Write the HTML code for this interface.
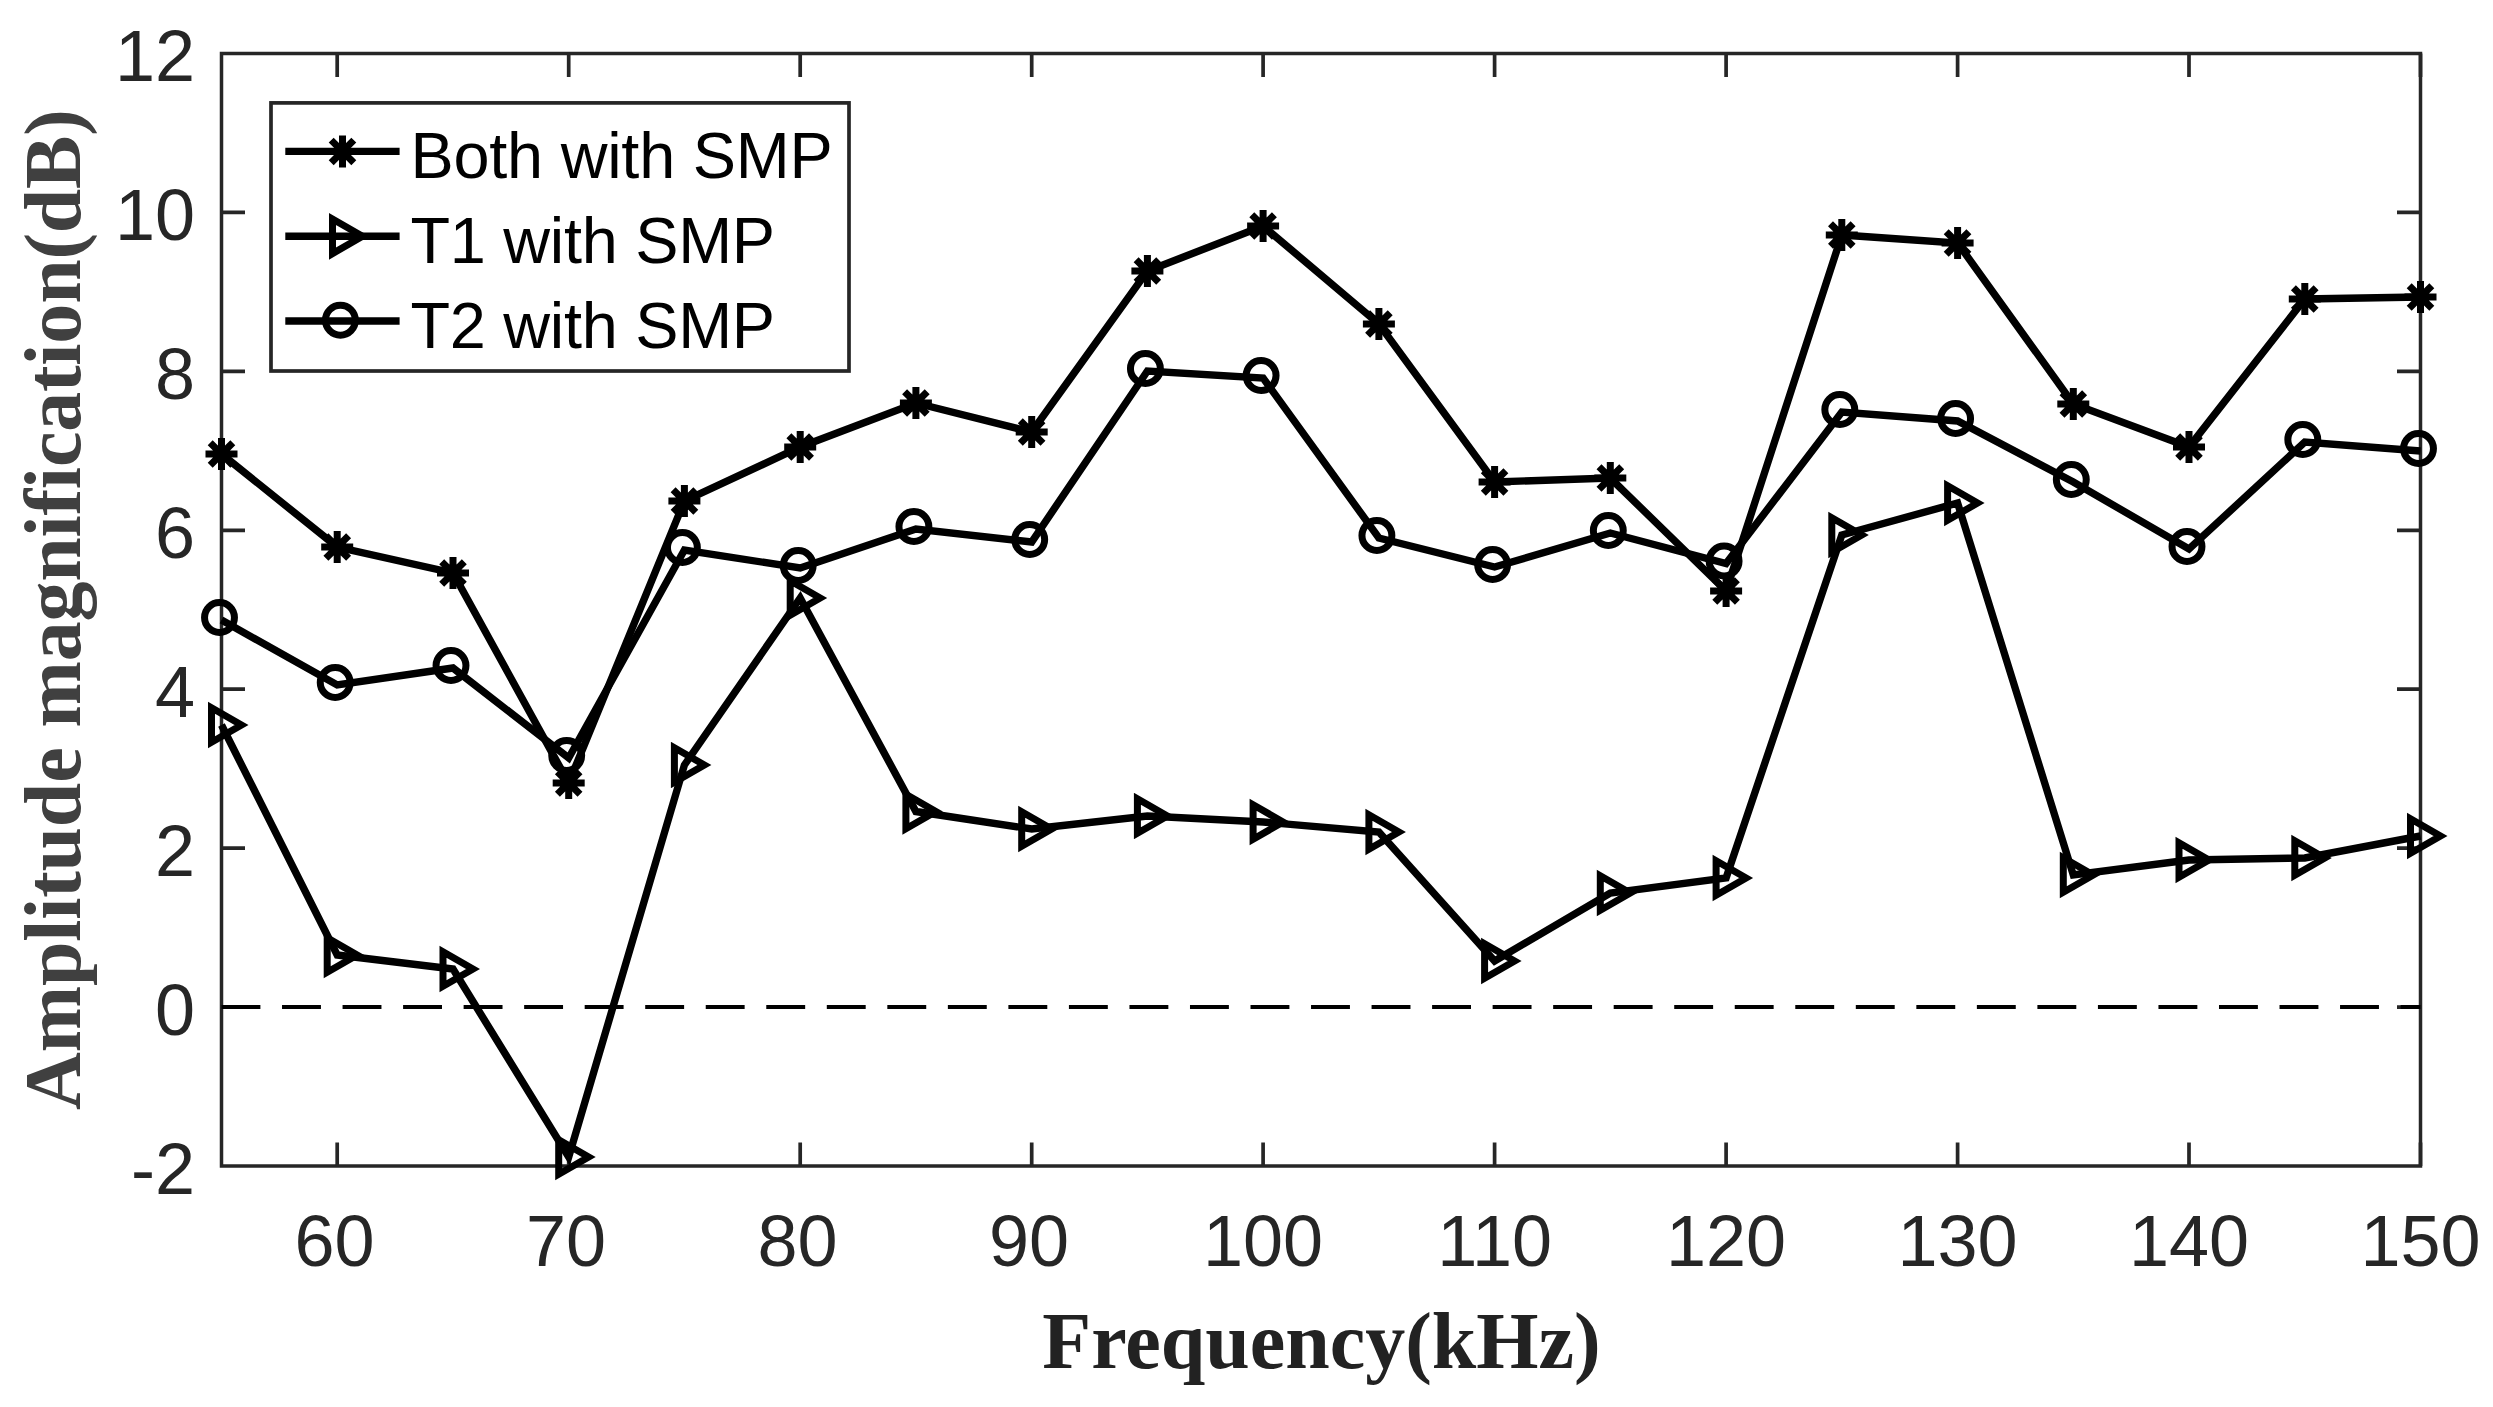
<!DOCTYPE html>
<html lang="en"><head><meta charset="utf-8"><title>Amplitude magnification vs Frequency</title>
<style>html,body{margin:0;padding:0;background:#fff}body{width:2493px;height:1407px;overflow:hidden}svg{display:block}.tk{font-family:"Liberation Sans",Arial,sans-serif;font-size:72px;fill:#262626}.lg{font-family:"Liberation Sans",Arial,sans-serif;font-size:64.8px;fill:#000}.xl{font-family:"Liberation Serif","Times New Roman",serif;font-weight:bold;font-size:80px;fill:#222}.yl{font-family:"Liberation Serif","Times New Roman",serif;font-weight:bold;font-size:80px;fill:#404040}</style></head><body>
<svg role="img" aria-label="Amplitude magnification versus frequency" width="2493" height="1407" viewBox="0 0 2493 1407">
<rect width="2493" height="1407" fill="#fff"/>
<g fill="none" stroke="#262626" stroke-width="3.5" stroke-linecap="butt">
<rect x="221.5" y="53.5" width="2199.0" height="1112.5"/>
<path stroke-width="3.7" d="M337.2 1166.0v-23.5M337.2 53.5v23.5M568.7 1166.0v-23.5M568.7 53.5v23.5M800.2 1166.0v-23.5M800.2 53.5v23.5M1031.7 1166.0v-23.5M1031.7 53.5v23.5M1263.1 1166.0v-23.5M1263.1 53.5v23.5M1494.6 1166.0v-23.5M1494.6 53.5v23.5M1726.1 1166.0v-23.5M1726.1 53.5v23.5M1957.6 1166.0v-23.5M1957.6 53.5v23.5M2189.0 1166.0v-23.5M2189.0 53.5v23.5M2420.5 1166.0v-23.5M2420.5 53.5v23.5M221.5 1007.1h23.5M2420.5 1007.1h-23.5M221.5 848.1h23.5M2420.5 848.1h-23.5M221.5 689.2h23.5M2420.5 689.2h-23.5M221.5 530.3h23.5M2420.5 530.3h-23.5M221.5 371.4h23.5M2420.5 371.4h-23.5M221.5 212.4h23.5M2420.5 212.4h-23.5"/>
</g>
<path d="M221.5 1007.1H2420.5" fill="none" stroke="#000" stroke-width="4" stroke-dasharray="38.9 21.63"/>
<g class="tk" text-anchor="middle">
<text x="334.6" y="1265.8">60</text>
<text x="566.1" y="1265.8">70</text>
<text x="797.6" y="1265.8">80</text>
<text x="1029.1" y="1265.8">90</text>
<text x="1263.1" y="1265.8">100</text>
<text x="1494.6" y="1265.8">110</text>
<text x="1726.1" y="1265.8">120</text>
<text x="1957.6" y="1265.8">130</text>
<text x="2189.0" y="1265.8">140</text>
<text x="2420.5" y="1265.8">150</text>
</g>
<g class="tk" text-anchor="end">
<text x="195" y="1193.5">-2</text>
<text x="195" y="1034.6">0</text>
<text x="195" y="875.6">2</text>
<text x="195" y="716.7">4</text>
<text x="195" y="557.8">6</text>
<text x="195" y="398.9">8</text>
<text x="195" y="239.9">10</text>
<text x="195" y="81.0">12</text>
</g>
<text class="xl" x="1042.3" y="1367.6">Frequency(kHz)</text>
<text class="yl" transform="translate(79.6 609.6) rotate(-90)" text-anchor="middle" textLength="1001" lengthAdjust="spacing">Amplitude magnification(dB)</text>
<g fill="none" stroke="#000" stroke-width="7.4" stroke-linejoin="miter" stroke-miterlimit="10">
<polyline points="221.5,454.0 337.2,547.0 453.0,573.0 568.7,783.0 684.4,501.0 800.2,447.0 915.9,403.0 1031.7,432.0 1147.4,271.0 1263.1,226.0 1378.9,324.0 1494.6,482.0 1610.3,478.0 1726.1,591.0 1841.8,235.0 1957.6,243.0 2073.3,404.0 2189.0,447.0 2304.8,299.0 2420.5,297.0"/>
</g><g fill="none" stroke="#000" stroke-width="7.0" stroke-linejoin="miter" stroke-miterlimit="10">
<path d="M205.5 454.0H237.5M221.5 438.0V470.0M210.2 442.7L232.8 465.3M210.2 465.3L232.8 442.7"/>
<path d="M321.2 547.0H353.2M337.2 531.0V563.0M325.9 535.7L348.6 558.3M325.9 558.3L348.6 535.7"/>
<path d="M437.0 573.0H469.0M453.0 557.0V589.0M441.7 561.7L464.3 584.3M441.7 584.3L464.3 561.7"/>
<path d="M552.7 783.0H584.7M568.7 767.0V799.0M557.4 771.7L580.0 794.3M557.4 794.3L580.0 771.7"/>
<path d="M668.4 501.0H700.4M684.4 485.0V517.0M673.1 489.7L695.8 512.3M673.1 512.3L695.8 489.7"/>
<path d="M784.2 447.0H816.2M800.2 431.0V463.0M788.9 435.7L811.5 458.3M788.9 458.3L811.5 435.7"/>
<path d="M899.9 403.0H931.9M915.9 387.0V419.0M904.6 391.7L927.2 414.3M904.6 414.3L927.2 391.7"/>
<path d="M1015.7 432.0H1047.7M1031.7 416.0V448.0M1020.3 420.7L1043.0 443.3M1020.3 443.3L1043.0 420.7"/>
<path d="M1131.4 271.0H1163.4M1147.4 255.0V287.0M1136.1 259.7L1158.7 282.3M1136.1 282.3L1158.7 259.7"/>
<path d="M1247.1 226.0H1279.1M1263.1 210.0V242.0M1251.8 214.7L1274.4 237.3M1251.8 237.3L1274.4 214.7"/>
<path d="M1362.9 324.0H1394.9M1378.9 308.0V340.0M1367.6 312.7L1390.2 335.3M1367.6 335.3L1390.2 312.7"/>
<path d="M1478.6 482.0H1510.6M1494.6 466.0V498.0M1483.3 470.7L1505.9 493.3M1483.3 493.3L1505.9 470.7"/>
<path d="M1594.3 478.0H1626.3M1610.3 462.0V494.0M1599.0 466.7L1621.7 489.3M1599.0 489.3L1621.7 466.7"/>
<path d="M1710.1 591.0H1742.1M1726.1 575.0V607.0M1714.8 579.7L1737.4 602.3M1714.8 602.3L1737.4 579.7"/>
<path d="M1825.8 235.0H1857.8M1841.8 219.0V251.0M1830.5 223.7L1853.1 246.3M1830.5 246.3L1853.1 223.7"/>
<path d="M1941.6 243.0H1973.6M1957.6 227.0V259.0M1946.2 231.7L1968.9 254.3M1946.2 254.3L1968.9 231.7"/>
<path d="M2057.3 404.0H2089.3M2073.3 388.0V420.0M2062.0 392.7L2084.6 415.3M2062.0 415.3L2084.6 392.7"/>
<path d="M2173.0 447.0H2205.0M2189.0 431.0V463.0M2177.7 435.7L2200.3 458.3M2177.7 458.3L2200.3 435.7"/>
<path d="M2288.8 299.0H2320.8M2304.8 283.0V315.0M2293.4 287.7L2316.1 310.3M2293.4 310.3L2316.1 287.7"/>
<path d="M2404.5 297.0H2436.5M2420.5 281.0V313.0M2409.2 285.7L2431.8 308.3M2409.2 308.3L2431.8 285.7"/>
</g>
<g fill="none" stroke="#000" stroke-width="7.4" stroke-linejoin="miter" stroke-miterlimit="10">
<polyline points="221.5,725.0 337.2,955.0 453.0,969.0 568.7,1157.0 684.4,765.0 800.2,598.0 915.9,811.5 1031.7,829.0 1147.4,816.0 1263.1,822.0 1378.9,832.0 1494.6,961.0 1610.3,893.0 1726.1,878.0 1841.8,535.0 1957.6,503.0 2073.3,875.0 2189.0,860.0 2304.8,858.0 2420.5,836.0"/>
</g><g fill="none" stroke="#000" stroke-width="7.0" stroke-linejoin="miter" stroke-miterlimit="10">
<path d="M241.5 725.0L211.5 707.7L211.5 742.3Z"/>
<path d="M357.2 955.0L327.2 937.7L327.2 972.3Z"/>
<path d="M473.0 969.0L443.0 951.7L443.0 986.3Z"/>
<path d="M588.7 1157.0L558.7 1139.7L558.7 1174.3Z"/>
<path d="M704.4 765.0L674.4 747.7L674.4 782.3Z"/>
<path d="M820.2 598.0L790.2 580.7L790.2 615.3Z"/>
<path d="M935.9 811.5L905.9 794.2L905.9 828.8Z"/>
<path d="M1051.7 829.0L1021.7 811.7L1021.7 846.3Z"/>
<path d="M1167.4 816.0L1137.4 798.7L1137.4 833.3Z"/>
<path d="M1283.1 822.0L1253.1 804.7L1253.1 839.3Z"/>
<path d="M1398.9 832.0L1368.9 814.7L1368.9 849.3Z"/>
<path d="M1514.6 961.0L1484.6 943.7L1484.6 978.3Z"/>
<path d="M1630.3 893.0L1600.3 875.7L1600.3 910.3Z"/>
<path d="M1746.1 878.0L1716.1 860.7L1716.1 895.3Z"/>
<path d="M1861.8 535.0L1831.8 517.7L1831.8 552.3Z"/>
<path d="M1977.6 503.0L1947.6 485.7L1947.6 520.3Z"/>
<path d="M2093.3 875.0L2063.3 857.7L2063.3 892.3Z"/>
<path d="M2209.0 860.0L2179.0 842.7L2179.0 877.3Z"/>
<path d="M2324.8 858.0L2294.8 840.7L2294.8 875.3Z"/>
<path d="M2440.5 836.0L2410.5 818.7L2410.5 853.3Z"/>
</g>
<g fill="none" stroke="#000" stroke-width="7.4" stroke-linejoin="miter" stroke-miterlimit="10">
<polyline points="221.5,620.0 337.2,685.0 453.0,668.0 568.7,758.0 684.4,550.0 800.2,568.0 915.9,529.0 1031.7,542.0 1147.4,371.0 1263.1,378.0 1378.9,538.0 1494.6,567.0 1610.3,533.0 1726.1,563.5 1841.8,412.0 1957.6,421.0 2073.3,482.0 2189.0,549.0 2304.8,442.0 2420.5,451.0"/>
</g><g fill="none" stroke="#000" stroke-width="7.0" stroke-linejoin="miter" stroke-miterlimit="10">
<circle cx="219.5" cy="617.5" r="14.95"/>
<circle cx="335.2" cy="682.5" r="14.95"/>
<circle cx="451.0" cy="665.5" r="14.95"/>
<circle cx="566.7" cy="755.5" r="14.95"/>
<circle cx="682.4" cy="547.5" r="14.95"/>
<circle cx="798.2" cy="565.5" r="14.95"/>
<circle cx="913.9" cy="526.5" r="14.95"/>
<circle cx="1029.7" cy="539.5" r="14.95"/>
<circle cx="1145.4" cy="368.5" r="14.95"/>
<circle cx="1261.1" cy="375.5" r="14.95"/>
<circle cx="1376.9" cy="535.5" r="14.95"/>
<circle cx="1492.6" cy="564.5" r="14.95"/>
<circle cx="1608.3" cy="530.5" r="14.95"/>
<circle cx="1724.1" cy="561.0" r="14.95"/>
<circle cx="1839.8" cy="409.5" r="14.95"/>
<circle cx="1955.6" cy="418.5" r="14.95"/>
<circle cx="2071.3" cy="479.5" r="14.95"/>
<circle cx="2187.0" cy="546.5" r="14.95"/>
<circle cx="2302.8" cy="439.5" r="14.95"/>
<circle cx="2418.5" cy="448.5" r="14.95"/>
</g>
<rect x="271" y="102.9" width="578" height="268.1" fill="#fff" stroke="#262626" stroke-width="3.7"/>
<g fill="none" stroke="#000" stroke-width="7.4" stroke-miterlimit="10">
<path d="M285.3 151.4H399.6"/>
<path d="M285.3 236.3H399.6"/>
<path d="M285.3 321.0H399.6"/>
</g><g fill="none" stroke="#000" stroke-width="7.0" stroke-miterlimit="10">
<path d="M326.5 151.4H358.5M342.5 135.4V167.4M331.2 140.1L353.8 162.7M331.2 162.7L353.8 140.1"/>
<path d="M362.5 236.3L332.5 219.0L332.5 253.6Z"/>
<circle cx="340.4" cy="320.2" r="14.95"/>
</g>
<g class="lg">
<text x="410.5" y="177.8" textLength="422.2">Both with SMP</text>
<text x="410.5" y="262.6" textLength="364.6">T1 with SMP</text>
<text x="410.5" y="347.5" textLength="364.6">T2 with SMP</text>
</g>
</svg></body></html>
